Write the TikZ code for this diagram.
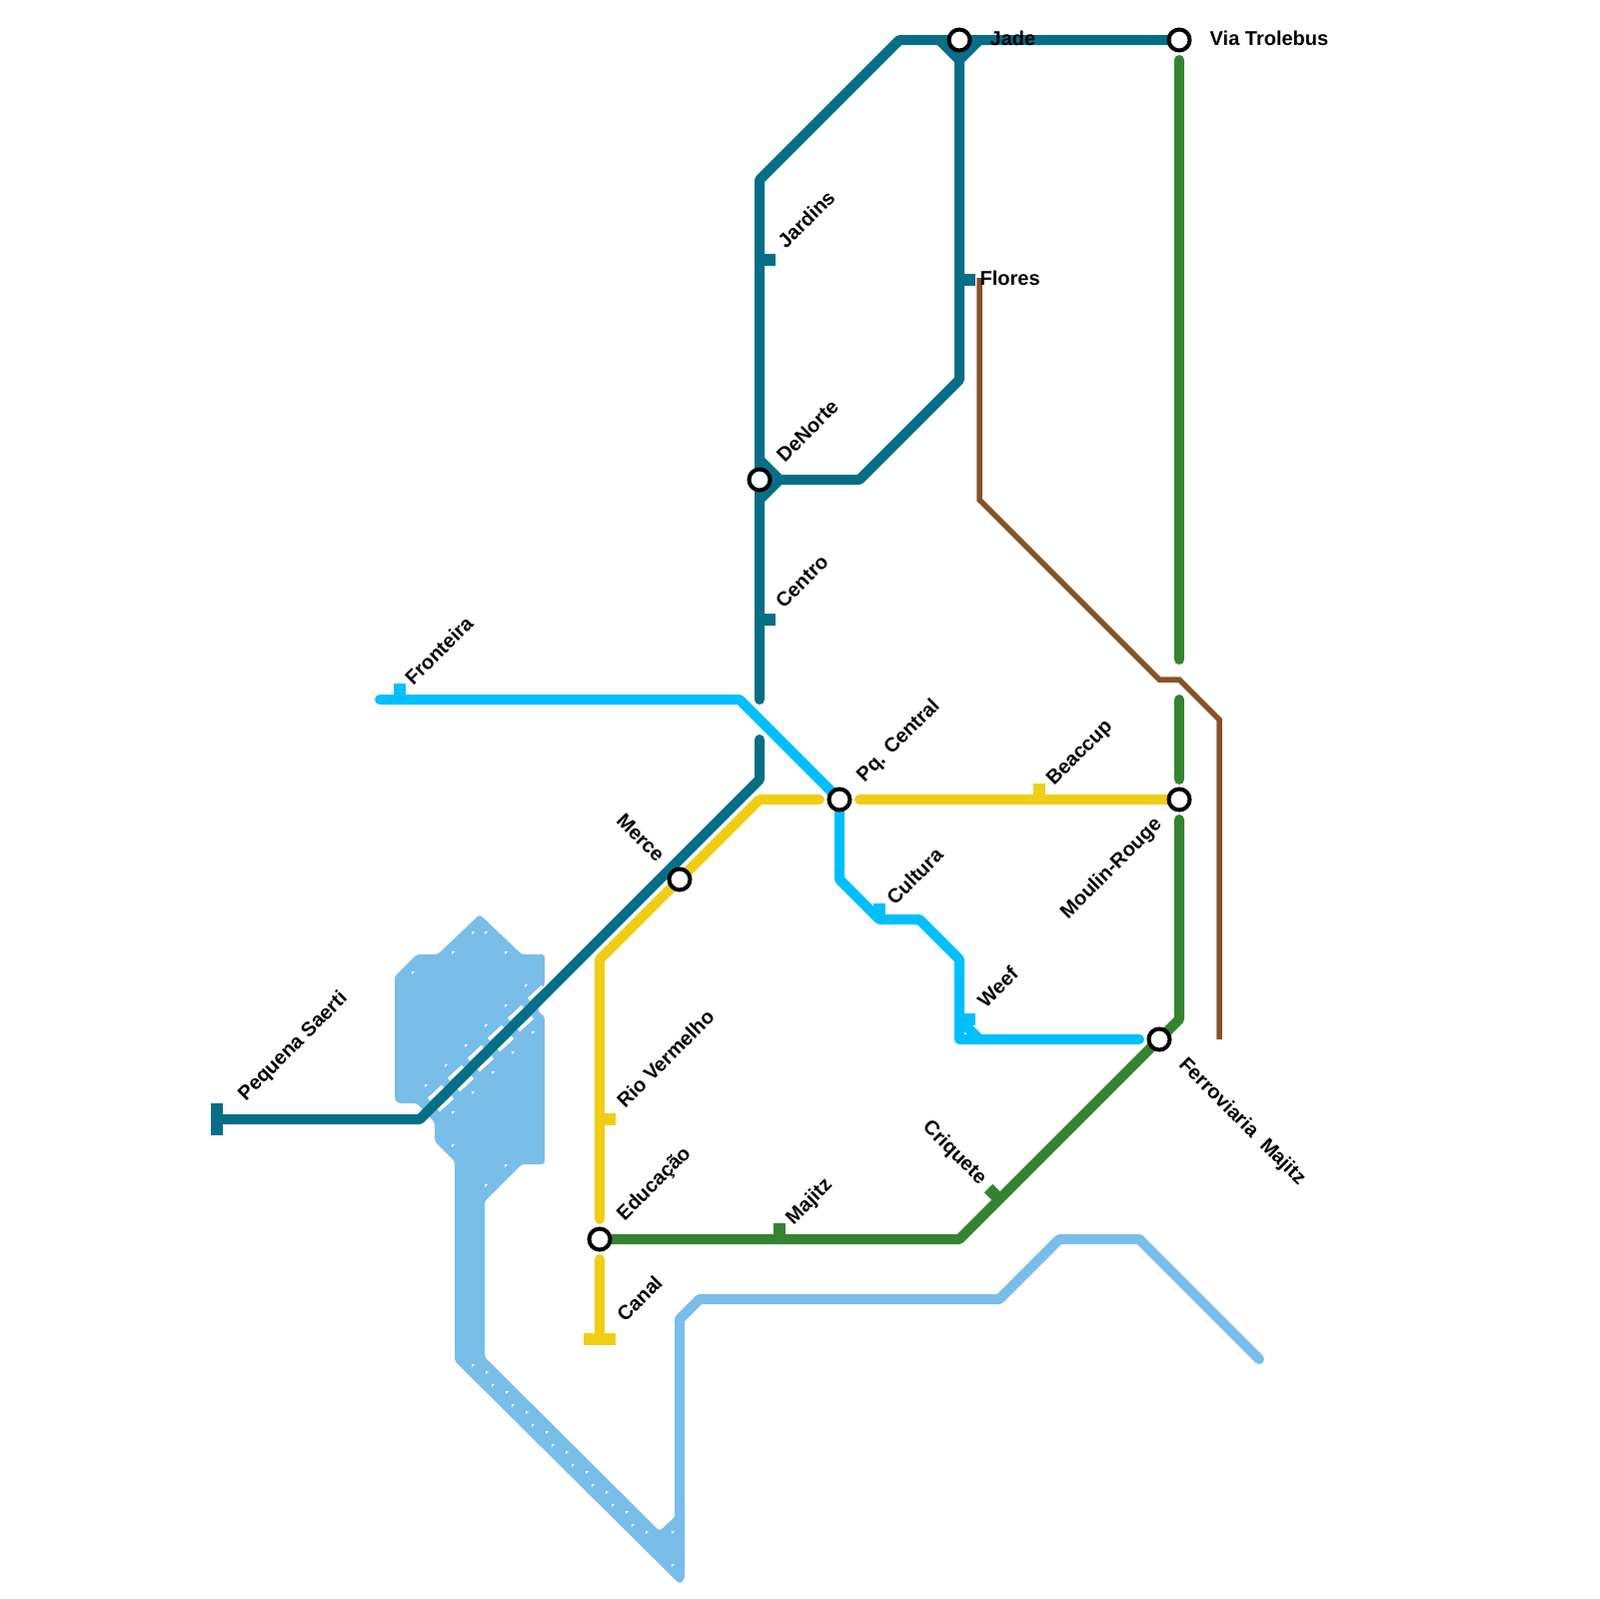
\documentclass[tikz,border=0pt]{standalone}
\usepackage{fontspec}
\setmainfont{Liberation Sans}
\definecolor{linhaTeal}{HTML}{076E87}
\definecolor{linhaCyan}{HTML}{00BFFF}
\definecolor{linhaYellow}{HTML}{F0CE15}
\definecolor{linhaGreen}{HTML}{34842F}
\definecolor{linhaLight}{HTML}{79BDE9}
\definecolor{linhaBrown}{HTML}{865327}
\tikzset{
  linha/.style={line width=1mm,line join=round},
  ends/.style={line cap=round},
  tick/.style={line width=1.2mm},
  station/.style={circle,draw=black,fill=white,line width=0.4mm,minimum size=2.1mm,inner sep=0pt},
  lbl/.style={font=\fontsize{5.69}{6.5}\selectfont\bfseries,inner sep=0pt,text=black},
  gap/.style={white,line width=0.35mm},
}
\begin{document}
\begin{tikzpicture}[x=0.1mm,y=-0.1mm]
\useasboundingbox (0,0) rectangle (1600,1600);
\coordinate (pJade) at (960,40);
\coordinate (pTrolebus) at (1180,40);
\coordinate (pDeNorte) at (760,480);
\coordinate (pCentral) at (840,800);
\coordinate (pMerce) at (680,880);
\coordinate (pMoulin) at (1180,800);
\coordinate (pFerro) at (1160,1040);
\coordinate (pEducacao) at (600,1240);
% bloco azul
\fill[linhaLight,rounded corners=0.3mm] (480,915) -- (522,955) -- (545,955) -- (545,983) -- (538,1012) -- (545,1017)
  -- (545,1165) -- (522,1165) -- (485,1202) -- (485,1358) -- (660,1532) -- (675,1518) -- (685,1500) -- (685,1580) -- (680,1585)
  -- (455,1362) -- (455,1162) -- (435,1142) -- (435,1123) -- (417,1104) -- (398,1104) -- (395,1100) -- (395,977) -- (417,955) -- (438,955) -- cycle;
\draw[linha,linhaLight,ends] (1260,1360) -- (1140,1240) -- (1060,1240) -- (1000,1300) -- (700,1300) -- (680,1320) -- (680,1570);
\foreach \k in {0,...,5}
  \draw[gap] ({429+20*\k},{1100-20*\k}) -- ++(14,-13);
\foreach \k in {0,...,4}
  \draw[gap] ({439+20*\k},{1111-20*\k}) -- ++(14,-13);
\foreach \x/\y in {472/932,485/932,452/952,505/952,412/972,525/985,505/1005,485/1025,465/1045,445/1065,425/1085,
  532/1032,512/1052,492/1072,472/1092,452/1112,452/1145,505/1165,485/1185,672/1532,672/1565}
  \fill[white] (\x,\y) -- ++(3,0) -- ++(-3,3) -- cycle;
\foreach \k in {0,...,8}
  \fill[white] ({472+20*\k},{1365+20*\k}) -- ++(3,0) -- ++(-3,3) -- cycle;
\foreach \k in {0,...,8}
  \fill[white] ({486+20*\k},{1372+20*\k}) -- ++(3,0) -- ++(-3,3) -- cycle;
% linhas
\draw[linha,linhaTeal,ends] (760,700) -- (760,180) -- (900,40) -- (pTrolebus);
\draw[linha,linhaTeal] (960,40) -- (960,380) -- (860,480) -- (pDeNorte);
\draw[linha,linhaTeal] (940,40) -- (960,60) -- (980,40);
\draw[linha,linhaTeal] (760,460) -- (780,480) -- (760,500);
\draw[linha,linhaTeal,ends] (760,740) -- (760,780) -- (420,1120) -- (217,1120);
\draw[tick,linhaTeal] (217,1104) -- (217,1136);
\draw[tick,linhaTeal] (760,260) -- (776,260);
\draw[tick,linhaTeal] (960,280) -- (976,280);
\draw[tick,linhaTeal] (760,620) -- (776,620);
\draw[line width=0.55mm,linhaBrown] (980,278) -- (980,500) -- (1160,680) -- (1180,680) -- (1220,720) -- (1220,1040);
\draw[linha,linhaCyan,ends] (380,700) -- (740,700) -- (pCentral) -- (840,880) -- (880,920) -- (920,920) -- (960,960) -- (960,1040) -- (1140,1040);
\draw[linha,linhaCyan] (960,1020) -- (980,1040);
\draw[tick,linhaCyan] (400,700) -- (400,684);
\draw[tick,linhaCyan] (880,920) -- (880,904);
\draw[tick,linhaCyan] (960,1020) -- (976,1020);
\draw[linha,linhaYellow,ends] (820,800) -- (760,800) -- (600,960) -- (600,1220);
\draw[linha,linhaYellow,ends] (860,800) -- (pMoulin);
\draw[linha,linhaYellow,ends] (600,1260) -- (600,1340);
\draw[tick,linhaYellow] (584,1340) -- (616,1340);
\draw[tick,linhaYellow] (600,1120) -- (616,1120);
\draw[tick,linhaYellow] (1040,800) -- (1040,784);
\draw[linha,linhaGreen,ends] (1180,60) -- (1180,660);
\draw[linha,linhaGreen,ends] (1180,700) -- (1180,780);
\draw[linha,linhaGreen,ends] (1180,820) -- (1180,1020) -- (960,1240) -- (pEducacao);
\draw[tick,linhaGreen] (780,1240) -- (780,1224);
\draw[tick,linhaGreen] (1000,1200) -- (989,1189);
% estacoes
\foreach \nome in {Jade,Trolebus,DeNorte,Central,Merce,Moulin,Ferro,Educacao}
  \node[station] (st\nome) at (p\nome) {};
% nomes
\node[lbl,anchor=west] (lJade) at (990,38) {Jade};
\node[lbl,anchor=west] (lTrolebus) at (1210,38) {Via Trolebus};
\node[lbl,anchor=west] (lFlores) at (980,278) {Flores};
\node[lbl,anchor=west,rotate=45] (lJardins) at (781,245) {Jardins};
\node[lbl,anchor=west,rotate=45] (lDeNorte) at (780,459) {DeNorte};
\node[lbl,anchor=west,rotate=45] (lCentro) at (779,605) {Centro};
\node[lbl,anchor=west,rotate=45] (lFronteira) at (408,682) {Fronteira};
\node[lbl,anchor=west,rotate=45] (lCentral) at (861,780) {Pq. Central};
\node[lbl,anchor=west,rotate=45] (lBeaccup) at (1051,784) {Beaccup};
\node[lbl,anchor=west,rotate=45] (lCultura) at (890,902) {Cultura};
\node[lbl,anchor=west,rotate=45] (lWeef) at (981,1005) {Weef};
\node[lbl,anchor=west,rotate=45] (lPequena) at (242,1099) {Pequena Saerti};
\node[lbl,anchor=west,rotate=45] (lRio) at (620,1105) {Rio Vermelho};
\node[lbl,anchor=west,rotate=45] (lEducacao) at (621,1219) {Educação};
\node[lbl,anchor=west,rotate=45] (lCanal) at (620,1319) {Canal};
\node[lbl,anchor=west,rotate=45] (lMajitz) at (790,1223) {Majitz};
\node[lbl,anchor=east,rotate=45] (lMoulin) at (1160,822) {Moulin-Rouge};
\node[lbl,anchor=east,rotate=-45] (lMerce) at (662,859) {Merce};
\node[lbl,anchor=east,rotate=-45] (lCriquete) at (984,1183) {Criquete};
\node[lbl,anchor=west,rotate=-45] (lFerro) at (1182,1062) {Ferroviaria\ \ Majitz};
\end{tikzpicture}
\end{document}
